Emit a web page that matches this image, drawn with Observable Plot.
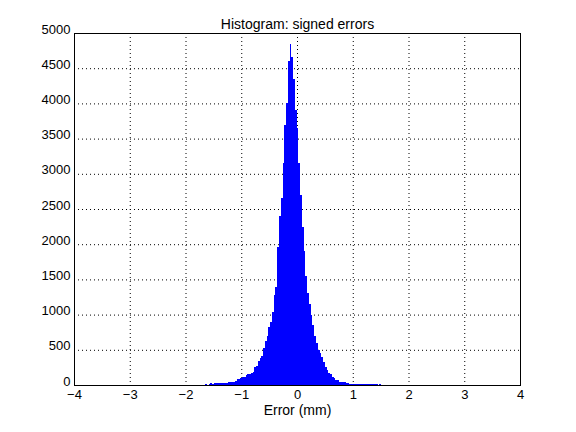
<!DOCTYPE html>
<html><head><meta charset="utf-8">
<script src="https://cdn.jsdelivr.net/npm/d3@7"></script>
<script src="https://cdn.jsdelivr.net/npm/@observablehq/plot@0.6"></script>
<style>body{margin:0;background:#fff}</style>
</head><body><div id="chart"></div>
<script>
const titleText = "Histogram: signed errors";
const xLabel = "Error (mm)";
const binLo = -1.65, binHi = 1.51;
const counts = [
  12, 0, 20, 22, 20, 24, 22, 24, 26, 24,
  26, 28, 30, 40, 43, 45, 48, 55, 81, 85,
  95, 110, 120, 135, 152, 158, 175, 190, 250, 270,
  345, 380, 410, 530, 620, 690, 830, 900, 1040, 1280,
  1390, 1963, 2398, 2650, 3150, 3700, 4000, 4600, 4840, 4660,
  4350, 3900, 3650, 3150, 2700, 2250, 1900, 1550, 1300, 1150,
  1000, 850, 700, 600, 500, 450, 395, 320, 260, 220,
  175, 150, 120, 95, 75, 70, 45, 43, 40, 38,
  25, 22, 20, 20, 18, 18, 16, 16, 15, 14,
  14, 13, 12, 12, 10, 10, 8, 8, 0, 12
];
const xTicks = [-4, -3, -2, -1, 0, 1, 2, 3, 4];
const yTicks = [0, 500, 1000, 1500, 2000, 2500, 3000, 3500, 4000, 4500, 5000];

const binW = (binHi - binLo) / counts.length;
const bins = counts.map((c, i) => ({x1: binLo + i * binW, x2: binLo + (i + 1) * binW, count: c}));

const chart = Plot.plot({
  width: 576, height: 432,
  marginLeft: 74, marginRight: 56, marginTop: 33, marginBottom: 47,
  style: {fontFamily: "'Liberation Sans', Arial, sans-serif", fontSize: "13px", background: "white", color: "black"},
  x: {domain: [-4, 4], label: null},
  y: {domain: [0, 5000], label: null},
  marks: [
    Plot.gridX(xTicks.filter(d => d > -4 && d < 4), {stroke: "black", strokeOpacity: 1, strokeDasharray: "1,3"}),
    Plot.gridY(yTicks.filter(d => d > 0 && d < 5000), {stroke: "black", strokeOpacity: 1, strokeDasharray: "1,3"}),
    Plot.rectY(bins, {x1: "x1", x2: "x2", y: "count", fill: "#0000ff", shapeRendering: "crispEdges"}),
    Plot.frame({stroke: "black", strokeWidth: 1}),
    Plot.axisX({ticks: xTicks, tickSize: 0, tickPadding: 4, label: null, fontSize: 13, tickFormat: d => d < 0 ? "\u2212" + (-d) : String(d)}),
    Plot.axisY({ticks: yTicks, tickSize: 0, tickPadding: 4, label: null, fontSize: 13, tickFormat: d => String(d), dy: -4}),
    Plot.text([titleText], {frameAnchor: "top", dy: -14, text: d => d, fontSize: 14}),
    Plot.text([xLabel], {frameAnchor: "bottom", dy: 29, text: d => d, fontSize: 14})
  ]
});
document.getElementById("chart").append(chart);
</script>
</body></html>
